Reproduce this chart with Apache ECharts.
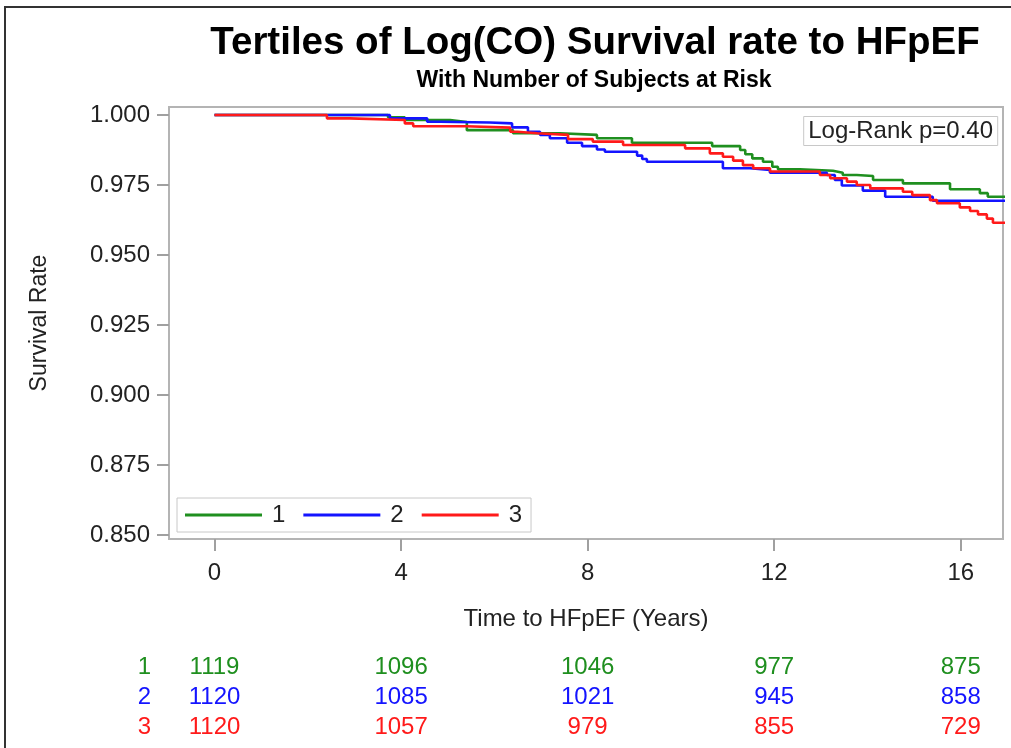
<!DOCTYPE html>
<html>
<head>
<meta charset="utf-8">
<title>Tertiles of Log(CO) Survival rate to HFpEF</title>
<script src="https://cdn.jsdelivr.net/npm/echarts@6/dist/echarts.min.js"></script>
<style>
    html, body { margin: 0; padding: 0; background: #fff; }
    #chart { width: 1011px; height: 748px; }
</style>
</head>
<body>
<div id="chart"></div>
<script>
// Kaplan-Meier curves, [years, survival], value holds from that time on
const group1 = [
    [0, 1.000], [3.72, 0.9992], [4.08, 0.9982], [5.05, 0.9975], [5.41, 0.9946],
    [6.40, 0.9935], [7.40, 0.9929], [8.20, 0.9917], [8.95, 0.9901], [10.67, 0.9889],
    [11.27, 0.9875], [11.38, 0.9860], [11.53, 0.9845], [11.76, 0.9833], [11.96, 0.9815],
    [12.08, 0.9806], [12.55, 0.9801], [13.26, 0.9794], [13.47, 0.9786], [13.77, 0.9782],
    [14.12, 0.9768], [14.76, 0.9756], [15.77, 0.9735], [16.41, 0.9721], [16.58, 0.9708],
    [16.95, 0.9708]
];
const group2 = [
    [0, 1.000], [3.76, 0.9988], [4.56, 0.9976], [4.84, 0.9973], [5.90, 0.9970],
    [6.38, 0.9956], [6.72, 0.9940], [6.98, 0.9929], [7.19, 0.9917], [7.56, 0.9901],
    [7.88, 0.9889], [8.20, 0.9877], [8.37, 0.9869], [9.06, 0.9855], [9.17, 0.9843],
    [9.27, 0.9833], [10.90, 0.9810], [11.48, 0.9804], [11.91, 0.9794], [13.13, 0.9786],
    [13.30, 0.9768], [13.45, 0.9748], [13.90, 0.9730], [14.38, 0.9708], [15.40, 0.9694],
    [16.95, 0.9694]
];
const group3 = [
    [0, 1.000], [2.41, 0.9988], [2.90, 0.9982], [4.08, 0.9970], [4.26, 0.9960],
    [5.39, 0.9955], [6.34, 0.9940], [6.49, 0.9935], [6.92, 0.9929], [7.58, 0.9914],
    [8.11, 0.9905], [8.76, 0.9893], [10.09, 0.9881], [10.62, 0.9863], [10.90, 0.9851],
    [11.12, 0.9837], [11.33, 0.9821], [11.55, 0.9810], [11.91, 0.9798], [12.98, 0.9786],
    [13.20, 0.9774], [13.56, 0.9762], [13.77, 0.9750], [14.06, 0.9738], [14.76, 0.9726],
    [14.96, 0.9714], [15.34, 0.9696], [15.49, 0.9685], [15.98, 0.9670], [16.20, 0.9657],
    [16.37, 0.9645], [16.56, 0.9630], [16.69, 0.9615], [16.95, 0.9615]
];

const groupNames = ['1', '2', '3'];
const groupColors = ['#1f8f1f', '#1414ff', '#ff1a1a'];

// number at risk table
const riskTimes = [0, 4, 8, 12, 16];
const risk1 = [1119, 1096, 1046, 977, 875];
const risk2 = [1120, 1085, 1021, 945, 858];
const risk3 = [1120, 1057, 979, 855, 729];

const xTicks = [0, 4, 8, 12, 16];
const yTicks = [0.850, 0.875, 0.900, 0.925, 0.950, 0.975, 1.000];

const pValueText = 'Log-Rank p=0.40';

const FONT = 'Liberation Sans, Arial, sans-serif';
const X_MIN = -0.976, X_MAX = 16.906;

function riskSeries(counts, idx) {
    let data = [];
    for (let i = 0; i < riskTimes.length; i++) {
        data.push([riskTimes[i], groupNames[idx], counts[i]]);
    }
    return {
        type: 'scatter',
        xAxisIndex: 1,
        yAxisIndex: 1,
        symbolSize: 2,
        itemStyle: { color: 'transparent', opacity: 1 },
        silent: true,
        data: data,
        label: {
            show: true,
            position: 'inside',
            formatter: function (p) { return p.value[2]; },
            fontFamily: FONT,
            fontSize: 24,
            color: groupColors[idx]
        }
    };
}

function kmSeries(data, idx) {
    return {
        name: groupNames[idx],
        type: 'line',
        step: 'end',
        showSymbol: false,
        data: data,
        color: groupColors[idx],
        lineStyle: { width: 2.6, color: groupColors[idx] },
        z: 3 + idx
    };
}

// colored row labels for the risk table
let rowRich = {};
groupNames.forEach(function (name, i) {
    rowRich['g' + i] = { color: groupColors[i], fontFamily: FONT, fontSize: 24 };
});

let chart = echarts.init(document.getElementById('chart'), null, { renderer: 'canvas' });

let option = {
    animation: false,
    title: [
        {
            text: 'Tertiles of Log(CO) Survival rate to HFpEF',
            left: 590, top: 19, textAlign: 'center',
            textStyle: { fontFamily: FONT, fontSize: 38.5, fontWeight: 'bold', color: '#000' }
        },
        {
            text: 'With Number of Subjects at Risk',
            left: 589, top: 64, textAlign: 'center',
            textStyle: { fontFamily: FONT, fontSize: 23, fontWeight: 'bold', color: '#000' }
        },
        {
            text: pValueText,
            right: 13, top: 116,
            padding: [3, 5],
            borderColor: '#c8c8c8', borderWidth: 1,
            textStyle: { fontFamily: FONT, fontSize: 24, fontWeight: 'normal', color: '#222' }
        }
    ],
    legend: {
        data: groupNames,
        left: 177, top: 498,
        orient: 'horizontal',
        icon: 'rect',
        itemWidth: 77, itemHeight: 3, itemGap: 18,
        padding: [5, 9, 5, 8],
        borderColor: '#c8c8c8', borderWidth: 1,
        textStyle: { fontFamily: FONT, fontSize: 24, color: '#222', padding: [0, 0, 0, 5] }
    },
    grid: [
        {
            left: 169, right: 8, top: 107, bottom: 209,
            show: true, borderColor: '#b4b4b4', borderWidth: 2, backgroundColor: '#fff'
        },
        { left: 169, right: 8, top: 652, height: 90 }
    ],
    xAxis: [
        {
            type: 'value', gridIndex: 0, min: X_MIN, max: X_MAX,
            name: 'Time to HFpEF (Years)', nameLocation: 'middle', nameGap: 68,
            nameTextStyle: { fontFamily: FONT, fontSize: 24, color: '#222' },
            axisLine: { show: false, onZero: false },
            splitLine: { show: false },
            axisTick: { show: true, customValues: xTicks, length: 12, lineStyle: { color: '#a0a0a0', width: 2 } },
            axisLabel: { customValues: xTicks, margin: 22, fontFamily: FONT, fontSize: 24, color: '#222' }
        },
        {
            type: 'value', gridIndex: 1, min: X_MIN, max: X_MAX, show: false
        }
    ],
    yAxis: [
        {
            type: 'value', gridIndex: 0, min: 0.84857, max: 1.00286,
            name: 'Survival Rate', nameLocation: 'middle', nameGap: 118, nameRotate: 90,
            nameTextStyle: { fontFamily: FONT, fontSize: 23, color: '#222' },
            axisLine: { show: false, onZero: false },
            splitLine: { show: false },
            axisTick: { show: true, customValues: yTicks, length: 12, lineStyle: { color: '#a0a0a0', width: 2 } },
            axisLabel: {
                customValues: yTicks, margin: 19, fontFamily: FONT, fontSize: 24, color: '#222',
                formatter: function (v) { return v.toFixed(3); }
            }
        },
        {
            type: 'category', gridIndex: 1, data: groupNames, inverse: true,
            axisLine: { show: false, onZero: false }, axisTick: { show: false }, splitLine: { show: false },
            axisLabel: {
                interval: 0, margin: 18, fontFamily: FONT, fontSize: 24,
                formatter: function (value) {
                    return '{g' + groupNames.indexOf(value) + '|' + value + '}';
                },
                rich: rowRich
            }
        }
    ],
    series: [
        kmSeries(group1, 0),
        kmSeries(group2, 1),
        kmSeries(group3, 2),
        riskSeries(risk1, 0),
        riskSeries(risk2, 1),
        riskSeries(risk3, 2)
    ],
    graphic: [
        {
            type: 'polyline',
            shape: { points: [[5, 748], [5, 7], [1011, 7]] },
            style: { stroke: '#333', lineWidth: 2, fill: null },
            silent: true
        }
    ]
};

chart.setOption(option);
</script>
</body>
</html>
